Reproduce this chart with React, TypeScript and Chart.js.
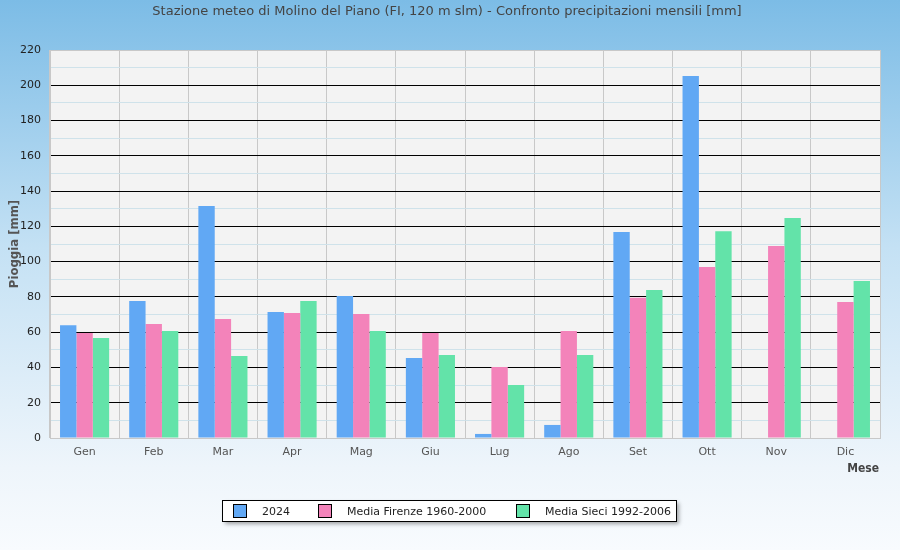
import React, { useEffect, useRef } from 'react';
import { Chart, registerables } from 'chart.js';

Chart.register(...registerables);

const months = ['Gen', 'Feb', 'Mar', 'Apr', 'Mag', 'Giu', 'Lug', 'Ago', 'Set', 'Ott', 'Nov', 'Dic'];
const rain2024 = [64, 77.7, 131.5, 71.4, 80.5, 45.4, 2.3, 7.4, 116.8, 205.2, null, null];
const mediaFirenze = [59.5, 64.6, 67.5, 70.9, 70.3, 59.5, 40.2, 60.7, 79.5, 96.9, 108.8, 77.1];
const mediaSieci = [56.7, 60.7, 46.5, 77.7, 60.7, 47, 30, 47, 83.9, 117.3, 124.7, 89];
const seriesNames = ['2024', 'Media Firenze 1960-2000', 'Media Sieci 1992-2006'];
const seriesColors = ['#61a8f4', '#f383ba', '#63e3a9'];

const titleText = 'Stazione meteo di Molino del Piano (FI, 120 m slm) - Confronto precipitazioni mensili [mm]';
const yTitle = 'Pioggia [mm]';
const xTitle = 'Mese';

const FONT = '"DejaVu Sans", sans-serif';

const decorPlugin = {
  id: 'decor',
  beforeDraw(chart: any) {
    const { ctx, chartArea } = chart;
    ctx.save();
    ctx.fillStyle = '#f3f3f3';
    ctx.fillRect(chartArea.left, chartArea.top, chartArea.right - chartArea.left, chartArea.bottom - chartArea.top);
    ctx.restore();
  },
  afterDraw(chart: any) {
    const { ctx, chartArea } = chart;
    ctx.save();
    // title
    ctx.fillStyle = '#444';
    ctx.font = '13px ' + FONT;
    ctx.textAlign = 'center';
    ctx.textBaseline = 'middle';
    ctx.fillText(titleText, 447, 12);

    // y title
    ctx.save();
    ctx.translate(15, (chartArea.top + chartArea.bottom) / 2);
    ctx.rotate(-Math.PI / 2);
    ctx.font = 'bold 13px "DejaVu Sans Condensed", "DejaVu Sans", sans-serif';
    ctx.fillStyle = '#555';
    ctx.fillText(yTitle, 0, 0);
    ctx.restore();

    // x title
    ctx.font = 'bold 12px "DejaVu Sans Condensed", "DejaVu Sans", sans-serif';
    ctx.fillStyle = '#444';
    ctx.textAlign = 'right';
    ctx.fillText(xTitle, chartArea.right - 1, 469);

    // legend
    const lx = 222, ly = 500, lw = 454, lh = 21;
    ctx.save();
    ctx.shadowColor = 'rgba(0,0,0,0.35)';
    ctx.shadowBlur = 4;
    ctx.shadowOffsetX = 3;
    ctx.shadowOffsetY = 3;
    ctx.fillStyle = '#ffffff';
    ctx.fillRect(lx, ly, lw, lh);
    ctx.restore();
    ctx.strokeStyle = '#000';
    ctx.lineWidth = 1;
    ctx.strokeRect(lx + 0.5, ly + 0.5, lw, lh);
    const boxX = [233, 318, 516];
    const textX = [262, 347, 545];
    ctx.font = '11px ' + FONT;
    ctx.textAlign = 'left';
    ctx.textBaseline = 'middle';
    for (let i = 0; i < 3; i++) {
      ctx.fillStyle = seriesColors[i];
      ctx.fillRect(boxX[i], ly + 4, 13, 13);
      ctx.strokeStyle = '#000';
      ctx.strokeRect(boxX[i] + 0.5, ly + 4.5, 13, 13);
      ctx.fillStyle = '#222';
      ctx.fillText(seriesNames[i], textX[i], ly + 12);
    }
    ctx.restore();
  },
};

export default function App() {
  const ref = useRef<HTMLCanvasElement>(null);
  useEffect(() => {
    document.body.style.margin = '0';
    const canvas = ref.current!;
    const chart = new Chart(canvas, {
      type: 'bar',
      data: {
        labels: months,
        datasets: [rain2024, mediaFirenze, mediaSieci].map((d, i) => ({
          label: seriesNames[i],
          data: d,
          backgroundColor: seriesColors[i],
          borderWidth: 0,
          categoryPercentage: 0.71,
          barPercentage: 1.0,
        })),
      },
      options: {
        responsive: false,
        animation: false,
        layout: { padding: { top: 50, left: 0, right: 20, bottom: 72 } },
        plugins: {
          legend: { display: false },
          title: { display: false },
          tooltip: { enabled: false },
        },
        scales: {
          x: {
            grid: { color: '#c8c8c8', drawTicks: false, offset: true },
            border: { color: '#c8c8c8' },
            ticks: { color: '#555', font: { family: FONT, size: 11 }, padding: 8 },
            afterFit: (s: any) => { s.height = 40; },
          },
          y: {
            min: 0,
            max: 220,
            grid: {
              drawTicks: false,
              color: (c: any) => {
                const v = c.tick?.value;
                if (v === 0 || v === 220) return '#c8c8c8';
                return v % 20 === 0 ? '#000000' : '#cfe2ea';
              },
            },
            border: { color: '#c8c8c8' },
            ticks: {
              stepSize: 10,
              autoSkip: false,
              color: '#222',
              font: { family: FONT, size: 11 },
              padding: 9,
              callback: (v: any) => (Number(v) % 20 === 0 ? String(v) : ''),
            },
            afterFit: (s: any) => { s.width = 50; },
          },
        },
      },
      plugins: [decorPlugin],
    });
    return () => chart.destroy();
  }, []);
  return (
    <div style={{ width: 900, height: 550, background: 'linear-gradient(#7cbce6 0%, #c4e1f4 45%, #eef5fb 85%, #f8fbfe 100%)' }}>
      <canvas ref={ref} width={900} height={550} style={{ display: 'block', width: 900, height: 550 }} />
    </div>
  );
}
